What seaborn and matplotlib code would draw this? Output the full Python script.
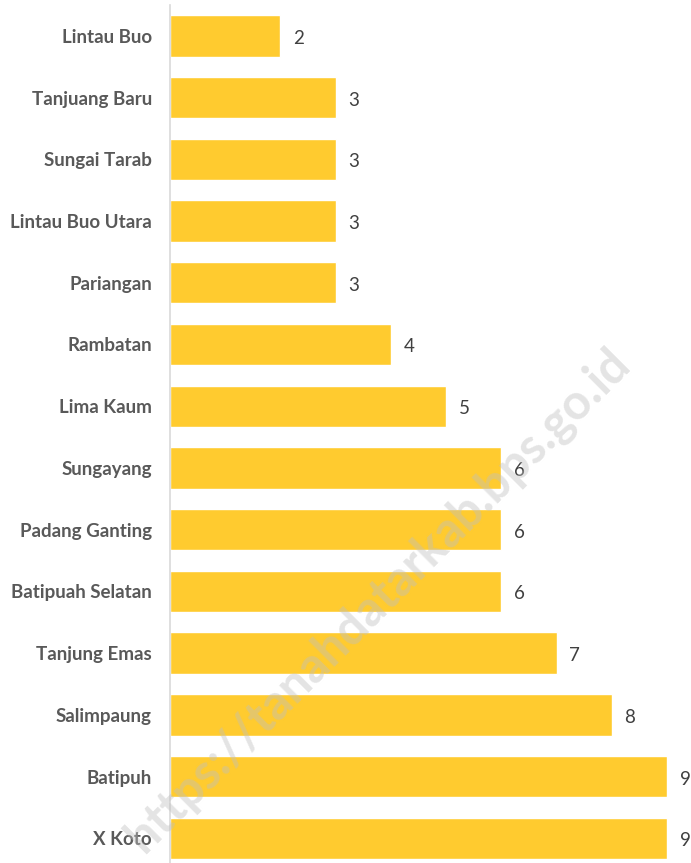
import matplotlib
matplotlib.use("Agg")
import matplotlib.pyplot as plt
import seaborn as sns
import pandas as pd

# kecamatan and count values, top to bottom as in the chart
kecamatan = [
    "Lintau Buo", "Tanjuang Baru", "Sungai Tarab", "Lintau Buo Utara",
    "Pariangan", "Rambatan", "Lima Kaum", "Sungayang", "Padang Ganting",
    "Batipuah Selatan", "Tanjung Emas", "Salimpaung", "Batipuh", "X Koto",
]
jumlah = [2, 3, 3, 3, 3, 4, 5, 6, 6, 6, 7, 8, 9, 9]

df = pd.DataFrame({"kecamatan": kecamatan, "jumlah": jumlah})

sns.set_style("white")
plt.rcParams["font.family"] = ["Lato", "DejaVu Sans"]

fig = plt.figure(figsize=(6.91, 8.63), dpi=100)
ax = fig.add_axes([170 / 691, 0.0, 497 / 691, 858 / 863])

sns.barplot(data=df, x="jumlah", y="kecamatan", color="#FFCB2F",
            saturation=1, width=0.67, orient="h", ax=ax)

ax.set_xlim(0, 9)
ax.set_ylim(13.4, -0.5)
ax.set_xlabel("")
ax.set_ylabel("")
ax.set_xticks([])
ax.tick_params(axis="y", length=0, pad=13)
for lbl in ax.get_yticklabels():
    lbl.set_fontsize(13.5)
    lbl.set_fontweight("bold")
    lbl.set_color("#595959")

for side in ["top", "right", "bottom"]:
    ax.spines[side].set_visible(False)
ax.spines["left"].set_color("#D9D9D9")
ax.spines["left"].set_linewidth(1.2)

for i, v in enumerate(jumlah):
    ax.text(v + 0.23, i + 0.04, str(v), va="center", ha="left", fontsize=13.5,
            color="#404040", clip_on=False)

# watermark
fig.text(0.547, 0.305, "https://tanahdatarkab.bps.go.id", rotation=45,
         ha="center", va="center", fontsize=35, fontweight="bold",
         color="#BFBFBF", alpha=0.42, zorder=5)

fig.savefig("out.png", dpi=100)
